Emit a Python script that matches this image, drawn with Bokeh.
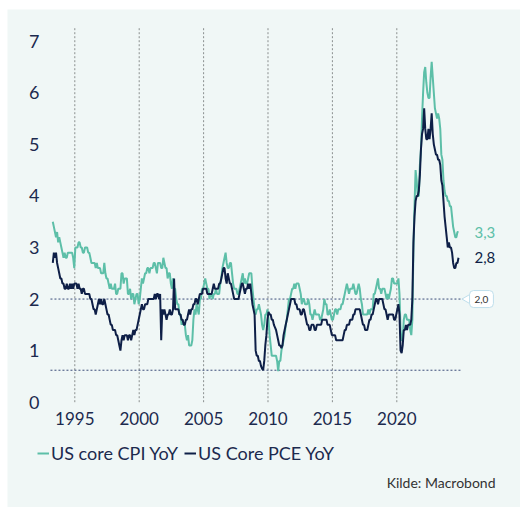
import numpy as np
import pandas as pd
from bokeh.plotting import figure
from bokeh.models import (ColumnDataSource, FixedTicker, Legend, LegendItem,
                          Label, Range1d)
from bokeh.core.properties import value
from bokeh.embed import file_html
from bokeh.resources import INLINE

# ---------------- data (monthly YoY %, Apr 1993 - Oct 2024) ----------------
first_month = "1993-04-01"

core_cpi_yoy = [
    3.5, 3.4, 3.3, 3.2, 3.3, 3.1, 3.2, 3.1, 3.0,                  # 1993 (Apr-Dec)
    2.9, 2.8, 2.9, 2.8, 2.8, 2.9, 2.9, 2.9, 2.9, 2.9, 2.8, 2.6,  # 1994
    3.0, 3.0, 3.0, 3.1, 3.1, 3.0, 3.0, 2.9, 2.9, 3.0, 3.0, 3.0,  # 1995
    2.9, 2.9, 2.8, 2.7, 2.7, 2.7, 2.7, 2.6, 2.7, 2.6, 2.6, 2.6,  # 1996
    2.5, 2.5, 2.5, 2.7, 2.5, 2.4, 2.4, 2.3, 2.2, 2.3, 2.2, 2.2,  # 1997
    2.2, 2.3, 2.1, 2.1, 2.2, 2.2, 2.2, 2.5, 2.5, 2.3, 2.4, 2.4,  # 1998
    2.4, 2.1, 2.1, 2.2, 2.0, 2.1, 2.1, 1.9, 2.0, 2.1, 2.1, 1.9,  # 1999
    2.0, 2.2, 2.4, 2.3, 2.4, 2.5, 2.5, 2.6, 2.6, 2.5, 2.6, 2.6,  # 2000
    2.6, 2.7, 2.7, 2.6, 2.5, 2.7, 2.7, 2.7, 2.6, 2.6, 2.8, 2.7,  # 2001
    2.6, 2.6, 2.4, 2.5, 2.5, 2.3, 2.2, 2.4, 2.2, 2.2, 2.0, 1.9,  # 2002
    1.9, 1.7, 1.7, 1.5, 1.6, 1.5, 1.5, 1.3, 1.2, 1.3, 1.1, 1.1,  # 2003
    1.1, 1.2, 1.6, 1.8, 1.7, 1.9, 1.8, 1.7, 2.0, 2.0, 2.2, 2.2,  # 2004
    2.3, 2.4, 2.3, 2.2, 2.2, 2.0, 2.1, 2.1, 2.0, 2.1, 2.1, 2.2,  # 2005
    2.1, 2.1, 2.1, 2.3, 2.4, 2.6, 2.7, 2.8, 2.9, 2.7, 2.6, 2.6,  # 2006
    2.7, 2.7, 2.5, 2.3, 2.2, 2.2, 2.2, 2.1, 2.1, 2.2, 2.3, 2.4,  # 2007
    2.5, 2.3, 2.4, 2.3, 2.3, 2.4, 2.5, 2.5, 2.5, 2.2, 2.0, 1.8,  # 2008
    1.7, 1.8, 1.8, 1.9, 1.8, 1.7, 1.5, 1.4, 1.5, 1.7, 1.7, 1.8,  # 2009
    1.6, 1.3, 1.1, 0.9, 0.9, 0.9, 0.9, 0.9, 0.8, 0.6, 0.8, 0.8,  # 2010
    1.0, 1.1, 1.2, 1.3, 1.5, 1.6, 1.8, 2.0, 2.0, 2.1, 2.2, 2.2,  # 2011
    2.3, 2.2, 2.3, 2.3, 2.3, 2.2, 2.1, 1.9, 2.0, 2.0, 1.9, 1.9,  # 2012
    1.9, 2.0, 1.9, 1.7, 1.7, 1.6, 1.7, 1.8, 1.7, 1.7, 1.7, 1.7,  # 2013
    1.6, 1.6, 1.7, 1.8, 2.0, 1.9, 1.9, 1.7, 1.7, 1.8, 1.7, 1.6,  # 2014
    1.6, 1.7, 1.8, 1.8, 1.7, 1.8, 1.8, 1.8, 1.9, 1.9, 2.0, 2.1,  # 2015
    2.2, 2.3, 2.2, 2.1, 2.2, 2.2, 2.2, 2.3, 2.2, 2.1, 2.1, 2.2,  # 2016
    2.3, 2.2, 2.0, 1.9, 1.7, 1.7, 1.7, 1.7, 1.7, 1.8, 1.7, 1.8,  # 2017
    1.8, 1.8, 2.1, 2.1, 2.2, 2.3, 2.4, 2.2, 2.2, 2.1, 2.2, 2.2,  # 2018
    2.2, 2.1, 2.0, 2.1, 2.0, 2.1, 2.2, 2.4, 2.4, 2.3, 2.3, 2.3,  # 2019
    2.3, 2.4, 2.1, 1.4, 1.2, 1.2, 1.6, 1.7, 1.7, 1.6, 1.6, 1.6,  # 2020
    1.4, 1.3, 1.6, 3.0, 3.8, 4.5, 4.3, 4.0, 4.0, 4.6, 4.9, 5.5,  # 2021
    6.0, 6.4, 6.5, 6.2, 6.0, 5.9, 5.9, 6.3, 6.6, 6.3, 6.0, 5.7,  # 2022
    5.6, 5.5, 5.6, 5.5, 5.3, 4.8, 4.7, 4.3, 4.1, 4.0, 4.0, 3.9,  # 2023
    3.9, 3.8, 3.8, 3.6, 3.4, 3.3, 3.2, 3.2, 3.3, 3.3,            # 2024 (Jan-Oct)
]

core_pce_yoy = [
    2.7, 2.9, 2.8, 2.9, 2.7, 2.6, 2.5, 2.4, 2.4,                  # 1993 (Apr-Dec)
    2.3, 2.3, 2.2, 2.2, 2.3, 2.2, 2.2, 2.3, 2.2, 2.3, 2.2, 2.3,  # 1994
    2.3, 2.3, 2.2, 2.3, 2.2, 2.2, 2.1, 2.2, 2.2, 2.1, 2.1, 2.1,  # 1995
    2.1, 2.1, 2.0, 2.0, 1.9, 1.8, 1.8, 1.7, 1.8, 1.9, 2.0, 1.9,  # 1996
    2.0, 1.9, 1.9, 2.0, 1.9, 1.8, 1.7, 1.7, 1.6, 1.5, 1.5, 1.4,  # 1997
    1.4, 1.4, 1.3, 1.3, 1.2, 1.1, 1.0, 1.2, 1.3, 1.2, 1.3, 1.3,  # 1998
    1.3, 1.2, 1.3, 1.3, 1.2, 1.3, 1.4, 1.3, 1.4, 1.4, 1.5, 1.6,  # 1999
    1.7, 1.8, 1.9, 1.8, 1.8, 1.9, 1.9, 1.9, 2.0, 2.0, 2.0, 2.0,  # 2000
    2.0, 2.0, 2.1, 2.0, 2.1, 2.1, 2.0, 2.1, 1.2, 1.8, 1.7, 1.8,  # 2001
    1.7, 1.6, 1.7, 1.7, 1.8, 1.7, 1.7, 1.8, 2.4, 1.8, 1.8, 1.8,  # 2002
    1.8, 1.7, 1.7, 1.6, 1.6, 1.5, 1.5, 1.6, 1.6, 1.7, 1.8, 1.7,  # 2003
    1.8, 1.8, 1.9, 1.9, 2.0, 2.0, 1.9, 2.0, 2.1, 2.1, 2.1, 2.2,  # 2004
    2.2, 2.2, 2.2, 2.1, 2.1, 2.1, 2.1, 2.1, 2.2, 2.3, 2.2, 2.2,  # 2005
    2.2, 2.2, 2.3, 2.3, 2.4, 2.5, 2.6, 2.6, 2.4, 2.3, 2.5, 2.4,  # 2006
    2.3, 2.3, 2.2, 2.1, 2.0, 2.0, 2.0, 2.0, 2.0, 2.1, 2.2, 2.3,  # 2007
    2.3, 2.2, 2.1, 2.2, 2.2, 2.3, 2.2, 2.3, 2.1, 1.9, 1.8, 1.7,  # 2008
    1.0, 0.9, 0.9, 0.8, 0.8, 0.7, 0.65, 0.62, 0.8, 1.1, 1.3, 1.6,  # 2009
    1.75, 1.7, 1.7, 1.6, 1.6, 1.5, 1.45, 1.4, 1.3, 1.2, 1.1, 1.1,  # 2010
    1.05, 1.1, 1.3, 1.4, 1.5, 1.6, 1.7, 1.8, 1.9, 2.0, 2.0, 2.0,  # 2011
    2.0, 1.9, 1.9, 1.8, 1.8, 1.8, 1.7, 1.7, 1.8, 1.8, 1.7, 1.6,  # 2012
    1.5, 1.5, 1.4, 1.4, 1.5, 1.5, 1.5, 1.4, 1.4, 1.5, 1.5, 1.5,  # 2013
    1.5, 1.5, 1.6, 1.6, 1.6, 1.6, 1.6, 1.5, 1.5, 1.5, 1.4, 1.3,  # 2014
    1.3, 1.3, 1.3, 1.2, 1.2, 1.2, 1.2, 1.2, 1.2, 1.2, 1.3, 1.4,  # 2015
    1.4, 1.5, 1.5, 1.5, 1.6, 1.6, 1.6, 1.7, 1.7, 1.8, 1.8, 1.8,  # 2016
    1.8, 1.8, 1.7, 1.6, 1.5, 1.5, 1.4, 1.4, 1.4, 1.5, 1.6, 1.6,  # 2017
    1.7, 1.7, 1.8, 1.9, 2.0, 2.0, 1.9, 2.0, 2.0, 2.0, 2.0, 1.9,  # 2018
    1.8, 1.8, 1.7, 1.6, 1.7, 1.7, 1.7, 1.7, 1.7, 1.6, 1.6, 1.7,  # 2019
    1.8, 1.9, 1.7, 1.0, 0.95, 1.1, 1.4, 1.4, 1.5, 1.4, 1.5, 1.5,  # 2020
    1.5, 1.6, 2.0, 3.1, 3.6, 3.9, 4.0, 4.0, 4.1, 4.4, 4.9, 5.2,  # 2021
    5.3, 5.7, 5.3, 5.1, 5.1, 5.3, 5.1, 5.3, 5.6, 5.2, 5.0, 4.9,  # 2022
    4.8, 4.8, 4.7, 4.7, 4.6, 4.3, 4.2, 3.9, 3.6, 3.4, 3.2, 3.0,  # 2023
    3.1, 3.0, 3.0, 2.9, 2.7, 2.6, 2.6, 2.7, 2.7, 2.8,            # 2024 (Jan-Oct)
]

series_names = ["US core CPI YoY", "US Core PCE YoY"]
year_ticks = [1995, 2000, 2005, 2010, 2015, 2020]
value_ticks = [0, 1, 2, 3, 4, 5, 6, 7]
target = 2.0
source_text = "Kilde: Macrobond"

# ---------------- styling / layout ----------------
TEAL = "#5dbfa8"
NAVY = "#0e1f47"
LABEL = "#1c2a4e"
BG = "#f0f7f6"
REF = "#3a4c78"
GRID = "#8a8f8f"
CALLOUT = "#bfdfec"
FONT = "Lato"

# whole canvas is the plotting frame; axes are pinned inside it
x_view = (1989.775, 2029.604)
y_view = (-2.042, 7.615)
plot_left = 1993.11      # left edge of the chart area (years)
plot_top = 7.28          # top of the chart area (value units)
ref_end = 2025.26        # where the reference lines stop

assert len(core_cpi_yoy) == len(core_pce_yoy)
dates = pd.date_range(first_month, periods=len(core_cpi_yoy), freq="MS")
years = dates.year + (dates.month - 0.5) / 12.0

src = ColumnDataSource(dict(x=years, cpi=core_cpi_yoy, pce=core_pce_yoy))

p = figure(width=513, height=498, margin=(9, 0, 0, 7),
           output_backend="svg", toolbar_location=None,
           x_range=Range1d(*x_view), y_range=Range1d(*y_view),
           min_border_left=0, min_border_right=0, min_border_top=0,
           min_border_bottom=0)
p.background_fill_color = BG
p.border_fill_color = BG
p.outline_line_color = None
p.grid.visible = False

# axes pinned at the chart-area edges
for ax in (p.xaxis[0], p.yaxis[0]):
    ax.axis_line_color = None
    ax.major_tick_line_color = None
    ax.minor_tick_line_color = None
    ax.major_label_text_font = FONT
    ax.major_label_text_color = LABEL
p.xaxis.fixed_location = 0
p.xaxis.ticker = FixedTicker(ticks=year_ticks)
p.xaxis.major_label_overrides = {t: str(t) for t in year_ticks}
p.xaxis.major_label_text_font_size = "17px"
p.xaxis.major_label_standoff = 4
p.yaxis.fixed_location = plot_left
p.yaxis.ticker = FixedTicker(ticks=value_ticks)
p.yaxis.major_label_text_font_size = "18px"
p.yaxis.major_label_standoff = 5

# vertical dotted year grid (only over the chart area)
p.segment(x0=year_ticks, x1=year_ticks, y0=[0] * len(year_ticks),
          y1=[plot_top] * len(year_ticks), line_color=GRID,
          line_dash="2 2", line_width=1)

# reference lines (2% target and series low)
p.segment(x0=[plot_left], x1=[ref_end], y0=[target], y1=[target],
          line_color=REF, line_dash="2 2", line_width=1)
p.segment(x0=[plot_left], x1=[ref_end - 0.3], y0=[min(core_pce_yoy)],
          y1=[min(core_pce_yoy)], line_color=REF, line_dash="2 2", line_width=1)

# series
r_cpi = p.line("x", "cpi", source=src, line_color=TEAL, line_width=2)
r_pce = p.line("x", "pce", source=src, line_color=NAVY, line_width=2)

# end-value labels
def fmt(v):
    return f"{v:.1f}".replace(".", ",")

end_src = ColumnDataSource(dict(
    x=[years[-1], years[-1]],
    y=[core_cpi_yoy[-1], core_pce_yoy[-1]],
    text=[fmt(core_cpi_yoy[-1]), fmt(core_pce_yoy[-1])],
    color=[TEAL, NAVY]))
p.text("x", "y", text="text", source=end_src, x_offset=16,
       text_baseline="middle", text_color="color",
       text_font=value(FONT), text_font_size="15px")

# target callout
p.scatter(x=[ref_end + 0.2], y=[target], marker="triangle", angle=np.pi / 2,
          size=9, fill_color="white", line_color=CALLOUT, line_width=1)
p.add_layout(Label(x=ref_end, y=target, x_offset=5, text=fmt(target),
                   text_baseline="middle", text_font=FONT, text_font_size="10px",
                   text_color="#333333", background_fill_color="white",
                   border_line_color=CALLOUT, padding=5, border_radius=4))

# legend under the axis
legend = Legend(items=[LegendItem(label=series_names[0], renderers=[r_cpi]),
                       LegendItem(label=series_names[1], renderers=[r_pce])],
                location=(30, 43), orientation="horizontal",
                padding=0, margin=0, spacing=6, glyph_width=12,
                glyph_height=16, label_standoff=2, label_height=16,
                label_text_font=FONT, label_text_font_size="18px",
                label_text_color=LABEL, background_fill_alpha=0,
                border_line_alpha=0)
p.add_layout(legend)

# source note
p.add_layout(Label(x=488, y=25.5, x_units="screen", y_units="screen",
                   text=source_text, text_align="right", text_baseline="middle",
                   text_font=FONT, text_font_size="14px", text_color="#333333"))

open("out.html", "w").write(file_html(p, INLINE))
